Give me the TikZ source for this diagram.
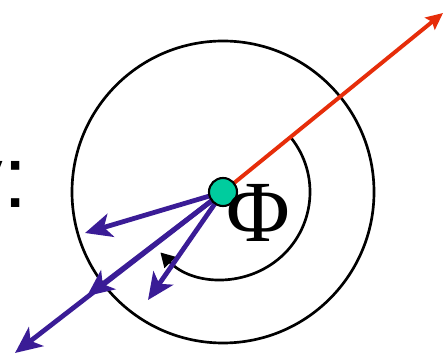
\documentclass[tikz,border=0pt]{standalone}
\usepackage{fontspec}
\newfontfamily\phifont{Liberation Serif}
\newfontfamily\labelfont{Liberation Sans}
\usetikzlibrary{arrows.meta}
\definecolor{rayred}{RGB}{230,45,10}
\definecolor{raypurple}{RGB}{58,28,150}
\definecolor{dotgreen}{RGB}{0,204,158}
\tikzset{
  ring/.style      ={draw,line width=1.9pt},
  outray/.style    ={rayred,line width=2.8pt,-{Stealth[length=12pt,width=11pt,inset=2pt]}},
  inray/.style     ={raypurple,line width=3.4pt,-{Stealth[length=19pt,width=17pt,inset=5pt]}},
  sweep/.style     ={line width=1.9pt,-{Triangle[length=10pt,width=11pt]}},
  sourcedot/.style ={circle,draw,line width=1.5pt,fill=dotgreen,minimum size=0.7cm,inner sep=0pt},
}

\begin{document}
\begin{tikzpicture}[x=0.025cm,y=0.025cm]
\clip (0,0) rectangle (444,361);
% cut-off label on the left
\node[anchor=base east,inner sep=0pt,font=\labelfont\fontsize{62}{62}\selectfont] (lbl) at (28,154) {y:};
% free ends of the rays
\coordinate (redtip)  at (443,348);
\coordinate (uptip)   at (85,128);
\coordinate (lowtip)  at (148,61);
\coordinate (midtip)  at (87,65);
\coordinate (fartip)  at (15,8);
\coordinate (O) at (223,169);
% circles
\draw[ring] (O) circle[radius=151];
\draw[sweep] (O) ++(39:87) arc[start angle=39,end angle=-136,radius=87];
% rays
\draw[outray] (O) -- (redtip);
\draw[inray] (O) -- (fartip);
\draw[inray] (O) -- (midtip);
\draw[inray] (O) -- (uptip);
\draw[inray] (O) -- (lowtip);
% source and angle
\node[sourcedot] (src) at (O) {};
\node[inner sep=0pt,font=\phifont\fontsize{62}{62}\selectfont] (phi) at (258,148) {Φ};
\end{tikzpicture}
\end{document}
